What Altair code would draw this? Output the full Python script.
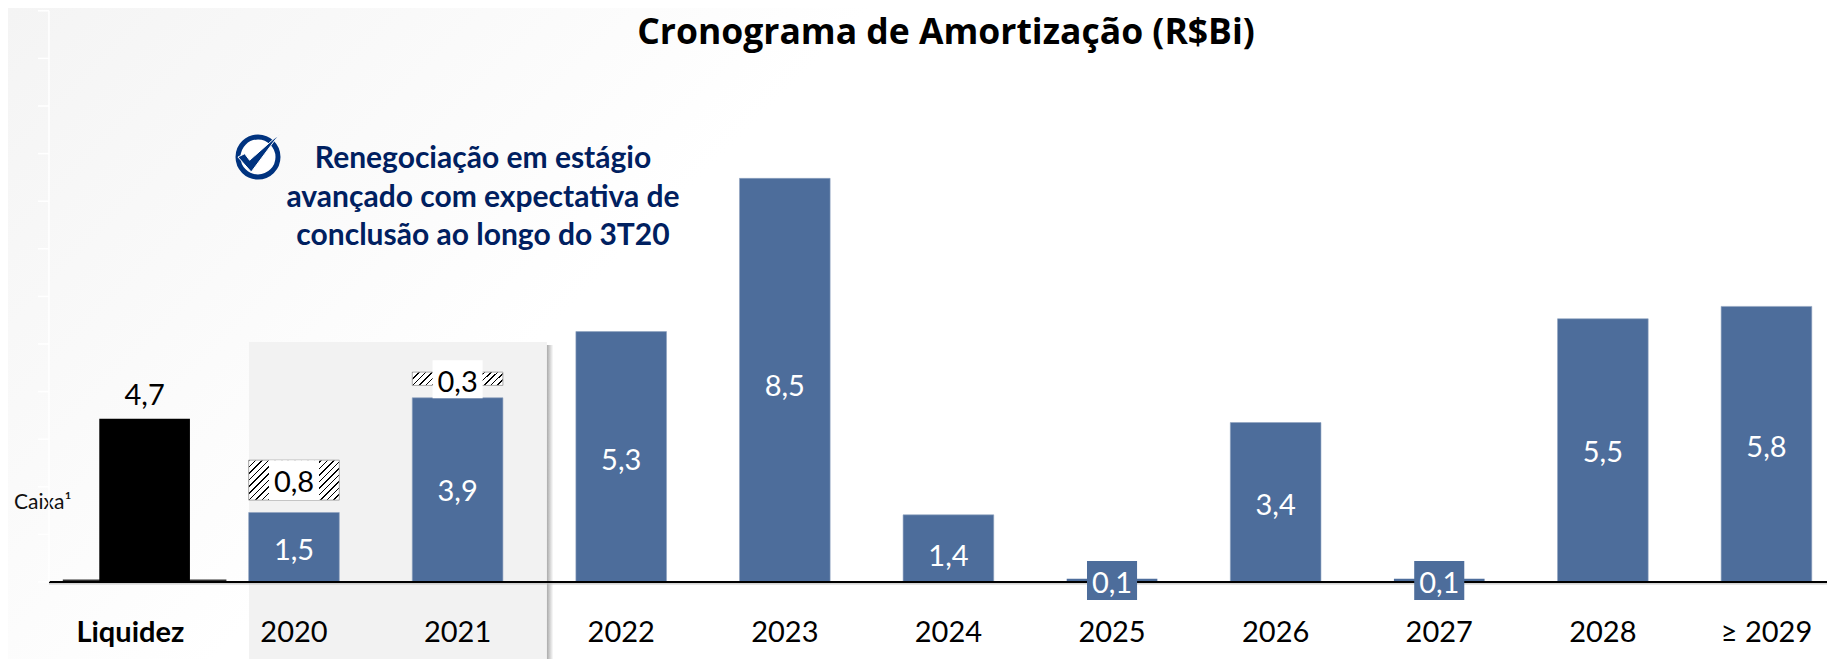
import altair as alt
import pandas as pd

# ---- values ----
categories = ["Liquidez", "2020", "2021", "2022", "2023", "2024", "2025", "2026", "2027", "2028", "≥ 2029"]
slots = [0, 1, 2, 3, 4, 5, 6, 7, 8, 9, 10]

blue_slots = [1, 2, 3, 4, 5, 7, 9, 10]
blue_tops = [1.46, 3.87, 5.26, 8.48, 1.41, 3.35, 5.53, 5.79]
blue_labels = ["1,5", "3,9", "5,3", "8,5", "1,4", "3,4", "5,5", "5,8"]
blue_label_y = [0.66, 1.89, 2.55, 4.10, 0.535, 1.59, 2.72, 2.82]

stub_slots = [6, 8]
stub_tops = [0.07, 0.07]
stub_labels = ["0,1", "0,1"]

cash_slot = 0.087
cash_top = 3.43
cash_label = "4,7"
cash_stub_top = 0.05

hatch_slots = [1, 2]
hatch_low = [1.72, 4.13]
hatch_high = [2.56, 4.41]
hatch_labels = ["0,8", "0,3"]
hatch_label_y = [2.07, 4.19]

tick_values = [0, 1, 2, 3, 4, 5, 6, 7, 8, 9, 10, 11, 12]

note_lines = ["Renegociação em estágio", "avançado com expectativa de", "conclusão ao longo do 3T20"]
title_text = "Cronograma de Amortização (R$Bi)"
caixa_text = "Caixa¹"

W, H = 1819, 651
BLUE = "#4d6d9b"
NAVY = "#002060"
FONT = "Lato"
X_DOMAIN = [-0.748, 10.370]
Y_DOMAIN = [-1.618, 12.059]
HALF = 0.277
NUM_SIZE = 29


def X(field="x"):
    return alt.X(f"{field}:Q", scale=alt.Scale(domain=X_DOMAIN, nice=False, zero=False), axis=None)


def Y(field="y"):
    return alt.Y(f"{field}:Q", scale=alt.Scale(domain=Y_DOMAIN, nice=False, zero=False), axis=None)


def hatch_gradient(periods, ratio):
    stops = []
    for i in range(periods):
        a, b, c = i / periods, (i + 0.24) / periods, (i + 1) / periods
        stops += [
            {"offset": a, "color": "#000000"},
            {"offset": b, "color": "#000000"},
            {"offset": b, "color": "#ffffff"},
            {"offset": c, "color": "#ffffff"},
        ]
    dx = (1 + ratio) / (1 + ratio * ratio)
    return {"gradient": "linear", "x1": 0, "y1": 0, "x2": dx, "y2": dx * ratio, "stops": stops}


def rect(frame, **mark):
    return alt.Chart(pd.DataFrame(frame)).mark_rect(**mark).encode(
        x=X("x"), x2="x2:Q", y=Y("y"), y2="y2:Q"
    )


def text_at(frame, **mark):
    return alt.Chart(pd.DataFrame(frame)).mark_text(font=FONT, baseline="middle", **mark).encode(
        x=X("x"), y=Y("y"), text="t:N"
    )


def fixed_text(t, px, py, font=FONT, **mark):
    return alt.Chart(pd.DataFrame({"t": [t]})).mark_text(font=font, baseline="middle", **mark).encode(
        x=alt.value(px), y=alt.value(py), text="t:N"
    )


background = rect(
    {"x": [X_DOMAIN[0]], "x2": [X_DOMAIN[1]], "y": [Y_DOMAIN[0]], "y2": [Y_DOMAIN[1]]},
    color={
        "gradient": "linear", "x1": 0, "y1": 0, "x2": 1, "y2": 0.36,
        "stops": [
            {"offset": 0, "color": "#f4f4f4"},
            {"offset": 0.2, "color": "#f9f9f9"},
            {"offset": 0.42, "color": "#ffffff"},
            {"offset": 1, "color": "#ffffff"},
        ],
    },
)

panel = rect({"x": [0.725], "x2": [2.546], "y": [Y_DOMAIN[0]], "y2": [5.04]}, color="#f2f2f2")
shadow = rect(
    {"x": [2.546], "x2": [2.585], "y": [Y_DOMAIN[0]], "y2": [4.98]},
    color={
        "gradient": "linear", "x1": 0, "y1": 0, "x2": 1, "y2": 0,
        "stops": [{"offset": 0, "color": "#aaaaaa"}, {"offset": 1, "color": "#ffffff"}],
    },
)

cash_wide = rect(
    {"x": [cash_slot - 0.5], "x2": [cash_slot + 0.5], "y": [0], "y2": [cash_stub_top]}, color="#333333"
)
cash_bar = rect(
    {"x": [cash_slot - HALF], "x2": [cash_slot + HALF], "y": [0], "y2": [cash_top]}, color="#000000"
)
blue_bars = rect(
    {
        "x": [s - HALF for s in blue_slots],
        "x2": [s + HALF for s in blue_slots],
        "y": [0] * len(blue_slots),
        "y2": blue_tops,
    },
    color=BLUE, stroke="#8fa3c0", strokeWidth=0.6,
)
stub_bars = rect(
    {
        "x": [s - HALF for s in stub_slots],
        "x2": [s + HALF for s in stub_slots],
        "y": [0, 0],
        "y2": stub_tops,
    },
    color=BLUE,
)

hatches = [
    rect(
        {"x": [s - HALF], "x2": [s + HALF], "y": [lo], "y2": [hi]},
        color=hatch_gradient(per, ratio), stroke="#a8a8a8", strokeWidth=1,
    )
    for s, lo, hi, per, ratio in zip(hatch_slots, hatch_low, hatch_high, [20, 16], [0.44, 0.15])
]

box_w = 0.153
white_boxes = rect(
    {
        "x": [s - box_w for s in hatch_slots],
        "x2": [s + box_w for s in hatch_slots],
        "y": [1.72, 3.86],
        "y2": [2.56, 4.66],
    },
    color="#ffffff",
)

baseline = alt.Chart(pd.DataFrame({"x": [-0.4976], "x2": [X_DOMAIN[1]], "y": [0]})).mark_rule(
    color="#000000", strokeWidth=2
).encode(x=X("x"), x2="x2:Q", y=Y("y"))
baseline_shade = alt.Chart(pd.DataFrame({"x": [-0.4976], "x2": [X_DOMAIN[1]], "y": [-0.04]})).mark_rule(
    color="#bbbbbb", strokeWidth=1
).encode(x=X("x"), x2="x2:Q", y=Y("y"))

blue_boxes = rect(
    {
        "x": [s - box_w for s in stub_slots],
        "x2": [s + box_w for s in stub_slots],
        "y": [-0.38, -0.38],
        "y2": [0.44, 0.44],
    },
    color=BLUE,
)

blue_text = text_at(
    {"x": blue_slots, "y": blue_label_y, "t": blue_labels},
    color="#ffffff", fontSize=NUM_SIZE,
)
stub_text = text_at(
    {"x": stub_slots, "y": [-0.05, -0.05], "t": stub_labels}, color="#ffffff", fontSize=NUM_SIZE
)
hatch_text = text_at(
    {"x": hatch_slots, "y": hatch_label_y, "t": hatch_labels}, color="#000000", fontSize=NUM_SIZE
)
cash_text = text_at(
    {"x": [cash_slot], "y": [cash_top + 0.48], "t": [cash_label]}, color="#000000", fontSize=NUM_SIZE
)
cat_text = text_at(
    {"x": slots[1:], "y": [-1.08] * 10, "t": categories[1:]}, color="#000000", fontSize=NUM_SIZE
)
liq_text = text_at(
    {"x": slots[:1], "y": [-1.08], "t": categories[:1]}, color="#000000", fontSize=NUM_SIZE, fontWeight="bold"
)

title = fixed_text(title_text, 938, 25, font="Open Sans", fontSize=35.5, fontWeight="bold", color="#000000", align="center")
caixa = fixed_text(caixa_text, 6, 495, fontSize=21, color="#111111", align="left")
notes = [
    fixed_text(line, 475, py, fontSize=30, fontWeight="bold", color=NAVY, align="center")
    for line, py in zip(note_lines, [151, 190, 228])
]

ring = alt.Chart(pd.DataFrame({"t": ["ring"]})).mark_point(
    shape="circle", size=1600, filled=True, fill="#ffffff", stroke="#00337f", strokeWidth=5, opacity=1
).encode(x=alt.value(250), y=alt.value(149))
check = alt.Chart(pd.DataFrame({"t": ["check"]})).mark_point(
    shape="M -0.86 0 L -0.57 -0.14 L -0.36 0.14 L 0.93 -1 L -0.29 0.64 Z",
    size=2178, filled=True, fill="#00337f", stroke="#ffffff", strokeWidth=1, opacity=1,
).encode(x=alt.value(250), y=alt.value(149))

white_axis = alt.Chart(pd.DataFrame({"x": [-0.4976], "y": [0], "y2": [12]})).mark_rule(
    color="#ffffff", strokeWidth=1.5
).encode(x=X("x"), y=Y("y"), y2="y2:Q")
white_ticks = alt.Chart(
    pd.DataFrame({"x": [-0.565] * 13, "x2": [-0.4976] * 13, "y": tick_values})
).mark_rule(color="#ffffff", strokeWidth=1.5).encode(x=X("x"), x2="x2:Q", y=Y("y"))

chart = alt.layer(
    background, panel, shadow,
    cash_wide, cash_bar, blue_bars, stub_bars,
    *hatches, white_boxes,
    baseline_shade, baseline, blue_boxes,
    blue_text, stub_text, hatch_text, cash_text, cat_text, liq_text,
    title, caixa, *notes, ring, check,
    white_axis, white_ticks,
).properties(
    width=W, height=H, padding=0,
    autosize=alt.AutoSizeParams(type="none"),
).configure_view(strokeWidth=0)

chart.save("out.html", embed_options={"renderer": "svg", "actions": False})
